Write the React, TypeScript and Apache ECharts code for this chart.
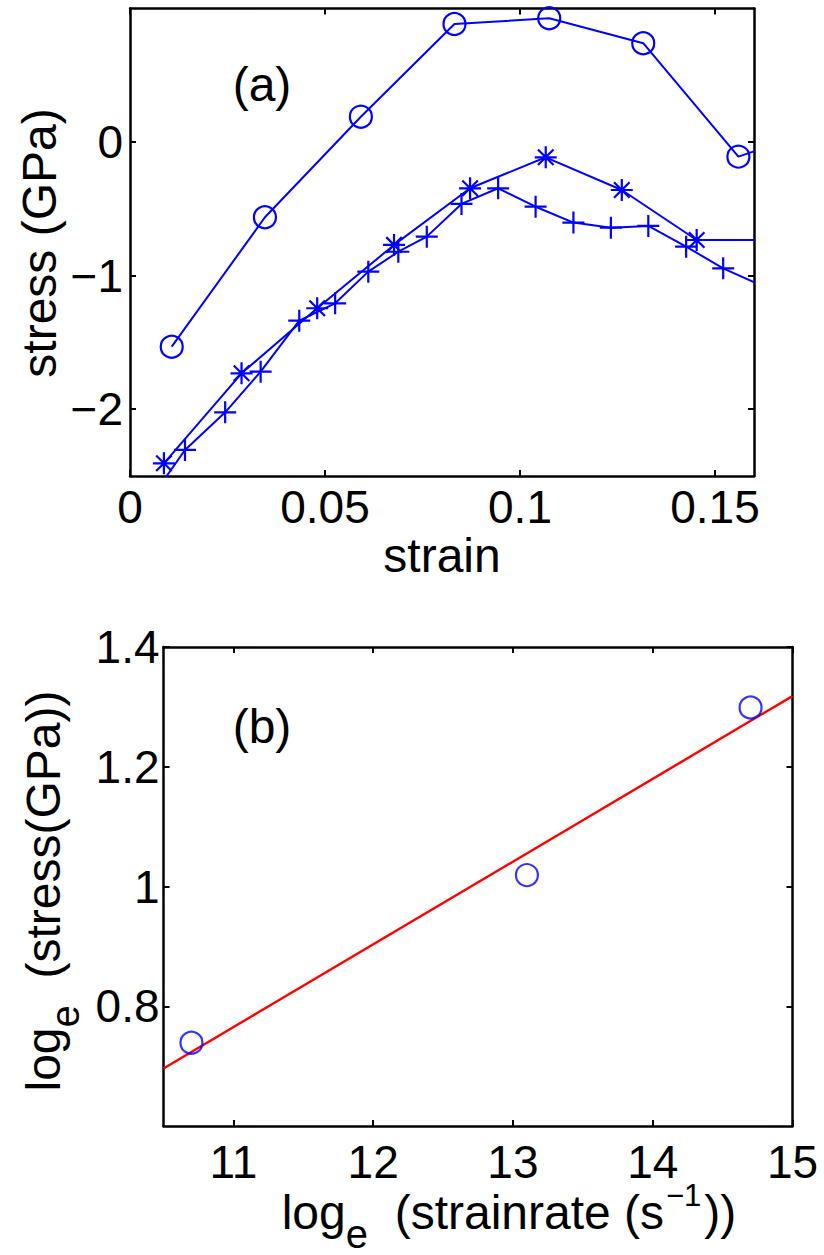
import React, { useEffect, useRef } from 'react';
import * as echarts from 'echarts';

// ---------- data ----------
const strainTicks = [0, 0.05, 0.1, 0.15];
const stressTicks = [-2, -1, 0];
const rateTicks = [11, 12, 13, 14, 15];
const logStressTicks = [0.8, 1, 1.2, 1.4];

const circleStrain = [0.0107, 0.0346, 0.0592, 0.0832, 0.1075, 0.1316, 0.156, 0.18];
const circleStress = [-1.532, -0.563, 0.19, 0.884, 0.927, 0.74, -0.109, 0.13];

const starStrain = [0.0087, 0.0286, 0.048, 0.0677, 0.0872, 0.1066, 0.1261, 0.1453, 0.1648];
const starStress = [-2.405, -1.731, -1.244, -0.77, -0.346, -0.114, -0.359, -0.733, -0.733];

const plusStrain = [0.0046, 0.0141, 0.0244, 0.0335, 0.0434, 0.0526, 0.0611, 0.0688, 0.0761, 0.085, 0.0944, 0.104, 0.1137, 0.1233, 0.1329, 0.1426, 0.1521, 0.1616];
const plusStress = [-2.7, -2.305, -2.023, -1.719, -1.337, -1.207, -0.97, -0.821, -0.708, -0.463, -0.346, -0.484, -0.603, -0.641, -0.628, -0.783, -0.945, -1.07];

const logRate = [10.7, 13.1, 14.7];
const logStress = [0.739, 1.019, 1.299];
const fitRate = [10.5, 15];
const fitStress = [0.696, 1.318];

// ---------- styling ----------
const FONT = '"Liberation Sans", Arial, Helvetica, sans-serif';
const BLUE = '#0000ff';
const RED = '#ff0000';
const TICK_FS = 46;
const NAME_FS = 48;

const pairs = (xs: number[], ys: number[]) => xs.map((x, i) => [x, ys[i]]);
const fmt = (v: number) => String(v).replace('-', '\u2212');

function axis(gridIndex: number, position: string, min: number, max: number, ticks: number[], showLabel: boolean, margin: number) {
  return {
    type: 'value',
    gridIndex,
    position,
    min,
    max,
    axisLine: { show: true, onZero: false, lineStyle: { color: '#000', width: 2.5 } },
    axisTick: { show: true, inside: true, length: 6, customValues: ticks, lineStyle: { color: '#000', width: 2 } },
    axisLabel: {
      show: showLabel,
      customValues: ticks,
      margin,
      fontSize: TICK_FS,
      fontFamily: FONT,
      color: '#000',
      formatter: fmt,
    },
    splitLine: { show: false },
    silent: true,
  };
}

const plusPath = 'path://M0,-10L0,10M-10,0L10,0';
const starPath = 'path://M0,-10L0,10M-10,0L10,0M-7.07,-7.07L7.07,7.07M-7.07,7.07L7.07,-7.07';

function markerSeries(xs: number[], ys: number[], symbol: string, size: number, xi: number, yi: number, withLine: boolean) {
  return {
    type: withLine ? 'line' : 'scatter',
    xAxisIndex: xi,
    yAxisIndex: yi,
    data: pairs(xs, ys),
    symbol,
    symbolSize: size,
    showSymbol: true,
    clip: true,
    silent: true,
    emphasis: { disabled: true },
    lineStyle: { color: BLUE, width: 2 },
    itemStyle: { color: 'rgba(0,0,0,0)', borderColor: BLUE, borderWidth: 2.2 },
    z: 3,
  };
}

const textStyle = (text: string, size: number, extra: any = {}) => ({
  text,
  fontSize: size,
  fontFamily: FONT,
  fill: '#000',
  align: 'center',
  verticalAlign: 'middle',
  textAlign: 'center',
  textVerticalAlign: 'middle',
  ...extra,
});

const richTok = (size: number, padding: number[]) => ({
  fontSize: size,
  fontFamily: FONT,
  fill: '#000',
  color: '#000',
  verticalAlign: 'top',
  padding,
});

const richStyles = {
  m: richTok(NAME_FS, [17, 0, 0, 0]),
  s: richTok(40, [43, 0, 0, 0]),
  p: richTok(31, [8.5, 3, 0, 2]),
};

export default function App() {
  const ref = useRef<HTMLDivElement>(null);

  useEffect(() => {
    if (!ref.current) return;
    const chart = echarts.init(ref.current, undefined, { renderer: 'svg' });
    const option: any = {
      animation: false,
      backgroundColor: '#ffffff',
      grid: [
        { left: 130, top: 8.5, width: 624, height: 467.5 },
        { left: 163.5, top: 647, width: 629, height: 479 },
      ],
      xAxis: [
        axis(0, 'bottom', 0, 0.16, strainTicks, true, 8),
        axis(0, 'top', 0, 0.16, strainTicks, false, 8),
        axis(1, 'bottom', 10.5, 15, rateTicks, true, 13),
        axis(1, 'top', 10.5, 15, rateTicks, false, 8),
      ],
      yAxis: [
        axis(0, 'left', -2.5, 1, stressTicks, true, 7),
        axis(0, 'right', -2.5, 1, stressTicks, false, 8),
        axis(1, 'left', 0.6, 1.4, logStressTicks, true, 4),
        axis(1, 'right', 0.6, 1.4, logStressTicks, false, 8),
      ],
      series: [
        markerSeries(circleStrain, circleStress, 'circle', 22, 0, 0, true),
        markerSeries(starStrain, starStress, starPath, 22, 0, 0, true),
        markerSeries(plusStrain, plusStress, plusPath, 22, 0, 0, true),
        {
          type: 'line',
          xAxisIndex: 2,
          yAxisIndex: 2,
          data: pairs(fitRate, fitStress),
          showSymbol: false,
          symbol: 'none',
          silent: true,
          lineStyle: { color: RED, width: 2.4 },
          z: 2,
        },
        markerSeries(logRate, logStress, 'circle', 22, 2, 2, false),
      ],
      graphic: [
        { type: 'text', x: 262, y: 84, silent: true, style: textStyle('(a)', NAME_FS) },
        { type: 'text', x: 262, y: 726, silent: true, style: textStyle('(b)', NAME_FS) },
        { type: 'text', x: 442, y: 555, silent: true, style: textStyle('strain', NAME_FS) },
        {
          type: 'text', x: 39, y: 243, rotation: Math.PI / 2, silent: true,
          style: textStyle('stress (GPa)', NAME_FS),
        },
        {
          type: 'text', x: 509, y: 1171, silent: true,
          style: textStyle('{m|log}{s|e}{m|  (strainrate (s}{p|\u22121}{m|))}', NAME_FS, {
            verticalAlign: 'top', textVerticalAlign: 'top', rich: richStyles,
          }),
        },
        {
          type: 'text', x: 2, y: 891, rotation: Math.PI / 2, silent: true,
          style: textStyle('{m|log}{s|e}{m|  (stress(GPa))}', NAME_FS, {
            verticalAlign: 'top', textVerticalAlign: 'top', rich: richStyles,
          }),
        },
      ],
    };
    chart.setOption(option);
    return () => chart.dispose();
  }, []);

  return (
    <div
      ref={ref}
      style={{ position: 'absolute', left: 0, top: 0, width: 824, height: 1255, background: '#fff' }}
    />
  );
}
